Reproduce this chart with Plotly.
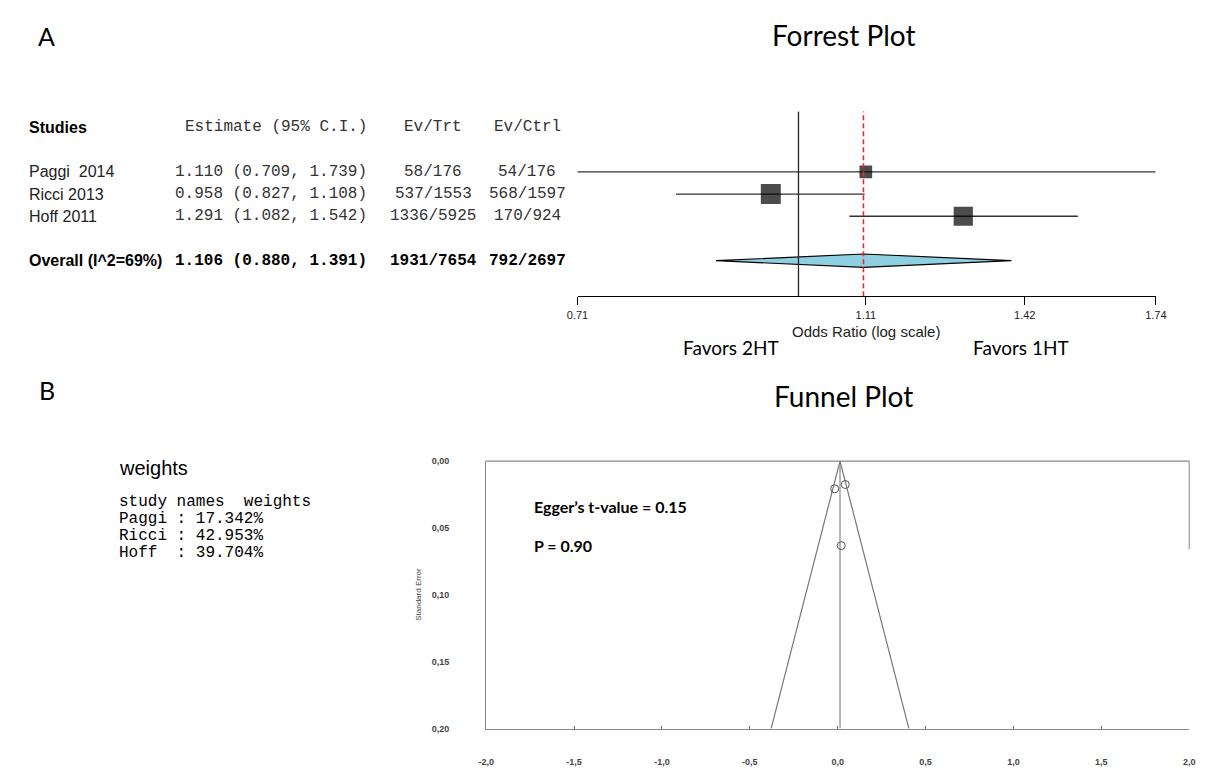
import math
import plotly.graph_objects as go

# ---------------- data ----------------
studies = ["Paggi  2014", "Ricci 2013", "Hoff 2011"]
estimate = [1.110, 0.958, 1.291]
ci_low = [0.709, 0.827, 1.082]
ci_high = [1.739, 1.108, 1.542]
ev_trt = ["58/176", "537/1553", "1336/5925"]
ev_ctrl = ["54/176", "568/1597", "170/924"]
study_rows = [1, 2, 3]

overall_label = "Overall (I^2=69%)"
overall_est = 1.106
overall_low = 0.880
overall_high = 1.391
overall_trt = "1931/7654"
overall_ctrl = "792/2697"
overall_row = 5

weight_names = ["Paggi", "Ricci", "Hoff"]
weights = [17.342, 42.953, 39.704]

forest_ticks = [0.71, 1.11, 1.42, 1.74]
null_or = 1.0

# funnel plot
funnel_effect = [-0.017, 0.043, 0.020]
funnel_se = [0.0207, 0.0175, 0.0632]
funnel_center = 0.013
funnel_se_max = 0.20
funnel_x_ticks = [-2.0, -1.5, -1.0, -0.5, 0.0, 0.5, 1.0, 1.5, 2.0]
funnel_y_ticks = [0.00, 0.05, 0.10, 0.15, 0.20]

W, H = 1212, 780


def px(x):
    return x / W


def py(y):
    return 1 - y / H


MONO = "Liberation Mono, Courier New, monospace"
SANS = "Liberation Sans, Arial, sans-serif"
CAL = "Lato, Open Sans, sans-serif"

fig = go.Figure()

# ---------------- forest plot ----------------
for i in range(len(studies)):
    fig.add_trace(go.Scatter(x=[ci_low[i], ci_high[i]], y=[study_rows[i], study_rows[i]],
                             mode="lines", line=dict(color="#333333", width=1.3),
                             xaxis="x", yaxis="y", showlegend=False, hoverinfo="skip"))
sizes = [3.05 * math.sqrt(w) for w in weights]
fig.add_trace(go.Scatter(x=estimate, y=study_rows, mode="markers",
                         marker=dict(symbol="square", size=sizes, color="black",
                                     line=dict(width=0)),
                         xaxis="x", yaxis="y", showlegend=False, hoverinfo="skip"))
dh = 0.3
fig.add_trace(go.Scatter(x=[overall_low, overall_est, overall_high, overall_est, overall_low],
                         y=[overall_row, overall_row - dh, overall_row, overall_row + dh, overall_row],
                         mode="lines", fill="toself", fillcolor="#8ECFE0",
                         line=dict(color="black", width=1.2),
                         xaxis="x", yaxis="y", showlegend=False, hoverinfo="skip"))

fig.add_shape(type="line", xref="x", yref="y domain", x0=null_or, x1=null_or, y0=0, y1=1,
              line=dict(color="#222222", width=1.3))
fig.add_shape(type="line", xref="x", yref="y domain", x0=overall_est, x1=overall_est, y0=0, y1=1,
              line=dict(color="#FF1E1E", width=1.5, dash="5px,3px"))

header_row = -1
tbl = []
tbl.append((px(16), header_row, "Studies", "left", SANS, 16, "black", True))
tbl.append((px(365), header_row, "Estimate (95% C.I.)", "right", MONO, 16, "#333333", False))
tbl.append((px(430), header_row, "Ev/Trt", "center", MONO, 16, "#333333", False))
tbl.append((px(526), header_row, "Ev/Ctrl", "center", MONO, 16, "#333333", False))
for i in range(len(studies)):
    r = study_rows[i]
    tbl.append((px(16), r, studies[i], "left", SANS, 16, "#222222", False))
    tbl.append((px(365), r, f"{estimate[i]:.3f} ({ci_low[i]:.3f}, {ci_high[i]:.3f})", "right", MONO, 16, "#333333", False))
    tbl.append((px(430), r, ev_trt[i], "center", MONO, 16, "#333333", False))
    tbl.append((px(526), r, ev_ctrl[i], "center", MONO, 16, "#333333", False))
tbl.append((px(16), overall_row, overall_label, "left", SANS, 16, "black", True))
tbl.append((px(365), overall_row, f"{overall_est:.3f} ({overall_low:.3f}, {overall_high:.3f})", "right", MONO, 16, "black", True))
tbl.append((px(430), overall_row, overall_trt, "center", MONO, 16, "black", True))
tbl.append((px(526), overall_row, overall_ctrl, "center", MONO, 16, "black", True))

annotations = []
for x, r, t, anc, fam, sz, col, bold in tbl:
    annotations.append(dict(x=x, y=r, xref="paper", yref="y", text=(f"<b>{t}</b>" if bold else t),
                            xanchor=anc, yanchor="middle", showarrow=False,
                            font=dict(family=fam, size=sz, color=col)))

# ---------------- funnel plot ----------------
fig.add_trace(go.Scatter(x=[funnel_center - 1.96 * funnel_se_max, funnel_center, funnel_center + 1.96 * funnel_se_max],
                         y=[funnel_se_max, 0, funnel_se_max], mode="lines",
                         line=dict(color="#777777", width=1.2),
                         xaxis="x2", yaxis="y2", showlegend=False, hoverinfo="skip"))
fig.add_trace(go.Scatter(x=[funnel_center, funnel_center], y=[0, funnel_se_max], mode="lines",
                         line=dict(color="#888888", width=1.2),
                         xaxis="x2", yaxis="y2", showlegend=False, hoverinfo="skip"))
fig.add_trace(go.Scatter(x=funnel_effect, y=funnel_se, mode="markers",
                         marker=dict(symbol="circle-open", size=8, color="#555555", line=dict(width=1)),
                         xaxis="x2", yaxis="y2", showlegend=False, hoverinfo="skip"))
fig.add_shape(type="line", xref="x2 domain", yref="y2 domain", x0=0, x1=1, y0=1, y1=1,
              line=dict(color="#888888", width=1.2))
fig.add_shape(type="line", xref="x2 domain", yref="y2 domain", x0=1, x1=1, y0=1, y1=0.67,
              line=dict(color="#999999", width=1.2))


def comma(v, d):
    return f"{v:.{d}f}".replace(".", ",")


def label(x, y, text, size, family=CAL, color="black", xanchor="center", angle=0):
    return dict(x=px(x), y=py(y), xref="paper", yref="paper", text=text, showarrow=False,
                xanchor=xanchor, yanchor="middle", textangle=angle,
                font=dict(family=family, size=size, color=color))


annotations += [
    label(36, 31, "A", 25),
    label(848, 30, "Forrest Plot", 28),
    label(37, 390, "B", 25),
    label(848, 396, "Funnel Plot", 28),
    label(871, 331, "Odds Ratio (log scale)", 15, SANS, "#222222"),
    label(733, 347, "Favors 2HT", 19),
    label(1029, 347, "Favors 1HT", 19),
    label(531, 508, "<b>Egger’s t-value = 0.15</b>", 16, xanchor="left"),
    label(531, 548, "<b>P = 0.90</b>", 16, xanchor="left"),
    label(415, 597, "Standard Error", 8, SANS, "#444444", angle=-90),
    label(108, 469, "weights", 20, SANS, xanchor="left"),
]
wlines = ["study names  weights"] + [f"{n:<5} : {w:.3f}%" for n, w in zip(weight_names, weights)]
wy = [503.5, 520.8, 538.1, 555.4]
for t, y in zip(wlines, wy):
    annotations.append(label(108, y, t.replace(" ", "&nbsp;"), 16, MONO, xanchor="left"))

fig.update_layout(
    width=W, height=H, autosize=False,
    margin=dict(l=0, r=0, t=0, b=0),
    paper_bgcolor="white", plot_bgcolor="white",
    showlegend=False,
    xaxis=dict(type="log", domain=[px(577), px(1166)],
               range=[math.log10(forest_ticks[0]), math.log10(forest_ticks[-1])],
               tickvals=forest_ticks, ticktext=[f"{t:.2f}" for t in forest_ticks],
               ticks="outside", ticklen=8, tickcolor="black", tickwidth=1.3,
               showline=True, linecolor="black", linewidth=1.3, showgrid=False, zeroline=False,
               tickfont=dict(family=SANS, size=11, color="#222222"), anchor="y"),
    yaxis=dict(domain=[py(295), py(108)], range=[6.6, -1.71], visible=False,
               showgrid=False, zeroline=False, anchor="x"),
    xaxis2=dict(domain=[px(484), px(1200)], range=[-2, 2],
                tickvals=funnel_x_ticks, ticktext=[comma(t, 1) for t in funnel_x_ticks],
                ticks="inside", ticklen=3, tickcolor="#666666",
                showline=True, linecolor="#888888", linewidth=1.2, showgrid=False, zeroline=False,
                ticklabelstandoff=24,
                tickfont=dict(family=SANS, size=9, color="#444444", weight="bold"), anchor="y2"),
    yaxis2=dict(domain=[py(733), py(462)], range=[0.2, 0],
                tickvals=funnel_y_ticks, ticktext=[comma(t, 2) for t in funnel_y_ticks],
                ticks="", showline=True, linecolor="#888888", linewidth=1.2,
                showgrid=False, zeroline=False, ticklabelstandoff=34,
                tickfont=dict(family=SANS, size=9, color="#444444", weight="bold"), anchor="x2"),
    annotations=annotations,
)

fig.write_html("out.html", config={"displayModeBar": False},
               post_script="document.body.style.margin='0';document.body.style.overflow='hidden';")
